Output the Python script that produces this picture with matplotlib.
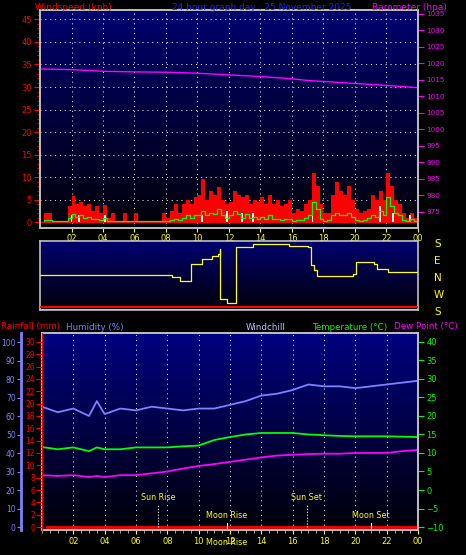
import numpy as np
import matplotlib
matplotlib.use("Agg")
import matplotlib.pyplot as plt
from matplotlib.colors import LinearSegmentedColormap

# ---- data ----
q_hours = [i*0.25 for i in range(96)]
gust = [0,2,2,0, 0,0,0,3.5, 5.8,4,4.5,3.5, 4,2.5,3.5,2, 3.8,1,2,0, 0,2,0,0, 2,0,0,0, 0,0,0,2,
        1,2.5,4,2, 4,5,4,5.5, 6,9.5,5,7, 6,7.8,5,4, 4.5,7,6,5.5, 6,4,5,4.5, 5.5,4,6,4, 5,3.5,4,5,
        2,3,2.5,4, 5,11,8,4, 2,2,6,9, 7,6,8,5, 3,2,2.5,3, 6,5,7,5, 11,8,5,4, 2,1,2,1]
avg_wind = [0.2,0.5,0.5,0.2, 0.2,0.2,0.3,1.0, 1.8,1.2,1.5,1.0, 1.2,0.6,0.8,0.4, 1.0,0.3,0.3,0.2, 0.2,0.2,0.2,0.2, 0.2,0.2,0.2,0.2, 0.2,0.2,0.2,0.3,
            0.3,0.5,0.8,0.5, 1.0,1.5,1.0,1.5, 1.5,2.5,1.5,2.0, 1.8,3.0,1.5,1.0, 1.5,2.5,1.8,1.0, 1.8,1.0,1.2,0.8, 1.2,0.8,1.5,0.6, 0.8,0.5,0.6,0.8,
            0.3,0.5,0.5,1.0, 1.5,4.5,3.0,0.8, 0.3,0.5,1.5,2.0, 1.5,1.5,2.0,1.2, 0.5,0.3,0.5,1.0, 1.5,1.2,2.5,1.5, 5.5,3.5,2.0,1.5, 0.5,0.3,0.8,0.3]
white_t = [2.0,2.5,4.1,10.3,11.9,12.8,13.5,17.3,21.6,22.4,23.5]
white_v = [1.5,1.5,1.5,1.5,2.5,2.0,2.0,3.5,3.5,2.0,1.5]
baro_t = [0,2,4,6,8,10,12,14,16,17,18,20,22,24]
baro = [1018.3,1018.1,1017.6,1017.4,1017.3,1017.0,1016.5,1016.0,1015.3,1014.8,1014.5,1013.9,1013.3,1012.6]
dir_t = [0,8.35,8.9,9.6,10.3,10.9,11.3,11.4,11.45,11.9,12.4,12.45,13.5,15.8,17.0,17.2,17.4,17.6,19.0,19.9,20.05,21.0,21.2,21.4,21.9,22.1,24]
dir_v = [35,33,29,46,51,54,56,61,11,7,7,63,66,64,63,45,40,34,34,36,48,48,46,41,41,38,36]
cl_t = [0,1,2,3,3.5,4,5,6,7,8,9,10,11,12,13,14,15,16,17,18,19,20,21,22,23,24]
humidity = [65,62,64,60,68,61,64,63,65,64,63,64,64,66,68,71,72,74,77,76,76,75,76,77,78,79]
temp = [11.6,11.0,11.5,10.5,11.5,11.0,11.0,11.5,11.5,11.5,11.8,12.0,13.5,14.3,15.0,15.4,15.4,15.4,15.0,14.8,14.6,14.5,14.5,14.5,14.4,14.3]
dew = [4.0,3.8,4.0,3.5,3.8,3.5,4.0,4.0,4.5,5.0,5.8,6.5,7.0,7.6,8.2,8.8,9.3,9.5,9.7,9.8,9.8,10.0,10.0,10.0,10.5,10.8]
xt = [2,4,6,8,10,12,14,16,18,20,22,24]
xtl = ['02','04','06','08','10','12','14','16','18','20','22','00']
events = ['Sun Rise', 'Sun Set', 'Moon Rise', 'Moon Set']
event_t = [7.4, 16.9, 11.8, 21.0]

fig = plt.figure(figsize=(4.66,5.55), dpi=100, facecolor='black')
plt.rcParams['font.family'] = 'DejaVu Sans'
FS = 6

def bg(ax, top, bot):
    g = np.linspace(0,1,256).reshape(-1,1)
    cm = LinearSegmentedColormap.from_list('g',[top,bot])
    ax.imshow(g, aspect='auto', cmap=cm, extent=[0,1,1,0], transform=ax.transAxes, zorder=0)
    for s in ax.spines.values():
        s.set_color('#c0c0c0'); s.set_linewidth(1.2)

W = lambda px: px/466
H = lambda px: px/555

# ---- top panel ----
ax1 = fig.add_axes([W(40), 1-H(228), W(378), H(218)])
bg(ax1, '#000008', '#000070')
ax1.bar(q_hours, gust, width=0.25, align='edge', color='red', zorder=2)
ax1.axhline(0, color='red', lw=1, zorder=2)
ax1.bar(white_t, white_v, width=0.12, color='#f0fff0', zorder=3)
ax1.step([h+0.25 for h in q_hours], avg_wind, where='pre', color='#00ff00', lw=0.9, zorder=4)
ax1.set_xlim(0,24); ax1.set_ylim(-1.3,47.1)
ax1.set_yticks(range(0,50,5))
ax1.set_yticks(range(0,47), minor=True)
ax1.tick_params(axis='y', colors='red', labelsize=FS, length=4, pad=2)
ax1.tick_params(axis='y', which='minor', colors='red', length=2)
ax1.set_xticks(xt); ax1.set_xticklabels(xtl)
ax1.tick_params(axis='x', colors='yellow', labelsize=FS, length=3, pad=1)
ax1.grid(True, color='white', linestyle=(0,(1,4)), lw=0.7)
ax1b = ax1.twinx()
ax1b.plot(baro_t, baro, color='#ff00ff', lw=1)
ax1b.set_ylim(970,1036.2)
ax1b.set_yticks(range(975,1036,5))
ax1b.tick_params(axis='y', colors='#ff00ff', labelsize=FS-0.8, length=4, pad=2)
for s in ax1b.spines.values(): s.set_color('#c0c0c0'); s.set_linewidth(1.2)
fig.text(W(35), 1-H(8), 'Windspeed (kph)', color='red', fontsize=6.5, va='center')
fig.text(W(172), 1-H(8), '24 hour graph day : 25 November 2025', color='#2020ff', fontsize=6.5, va='center')
fig.text(W(372), 1-H(8), 'Barometer (hpa)', color='#ff00ff', fontsize=6.5, va='center')

# ---- middle panel ----
ax2 = fig.add_axes([W(40), 1-H(310), W(378), H(69)])
bg(ax2, '#000008', '#000070')
ax2.step(dir_t, dir_v, where='post', color='yellow', lw=0.9, zorder=3)
ax2.plot([0,24],[3,3], color='red', lw=1.5, zorder=3)
ax2.plot([0,24],[1,1], color='#c0c0ff', lw=0.7, zorder=3)
ax2.set_xlim(0,24); ax2.set_ylim(0,69)
ax2.set_xticks([]); ax2.set_yticks([])
for i, lab in enumerate(['S','E','N','W','S']):
    fig.text(W(434), 1-H(244+17*i), lab, color='yellow', fontsize=7.5, va='center')

# ---- bottom panel ----
ax3 = fig.add_axes([W(42), 1-H(530), W(376), H(197)])
bg(ax3, '#000008', '#000080')
ax3.set_xlim(0,24)
ax3.set_ylim(-10.8,42.4)
ax3.plot(cl_t, [h*0.5-10 for h in humidity], color='#8080ff', lw=1.3, zorder=3)
ax3.plot(cl_t, temp, color='#00ff00', lw=1.3, zorder=3)
ax3.plot(cl_t, dew, color='#ff00ff', lw=1.3, zorder=3)
ax3.plot([0.3,24],[-10,-10], color='red', lw=2, zorder=3)
ax3.set_yticks([])
ax3.set_xticks(xt); ax3.set_xticklabels(xtl)
ax3.set_xticks(np.arange(0,24,0.5), minor=True)
ax3.tick_params(axis='x', colors='yellow', labelsize=FS, length=3, pad=2)
ax3.tick_params(axis='x', which='minor', colors='#c0c0c0', length=2)
ax3.grid(True, color='white', linestyle=(0,(1,4)), lw=0.7)
axt = ax3.twinx(); axt.set_ylim(-10.8,42.4)
axt.set_yticks(range(-10,41,5))
axt.tick_params(axis='y', colors='#00ff00', labelsize=FS, length=4, pad=2)
for s in axt.spines.values(): s.set_color('#c0c0c0'); s.set_linewidth(1.2)
axr = ax3.twinx(); axr.set_ylim(-0.48, 31.44)
axr.yaxis.set_ticks_position('left')
axr.set_yticks(range(0,31,2)); axr.set_yticks(np.arange(0,30.1,0.5), minor=True)
axr.tick_params(axis='y', colors='red', labelsize=FS-0.5, length=4, pad=1)
axr.tick_params(axis='y', which='minor', colors='red', length=1.5)
axr.spines['left'].set_color('red')
for k in ['right','top','bottom']: axr.spines[k].set_visible(False)
axh = ax3.twinx(); axh.set_ylim(-1.6,104.9)
axh.yaxis.set_ticks_position('left')
axh.spines['left'].set_position(('outward', 15)); axh.spines['left'].set_color('#8080ff')
axh.spines['left'].set_linewidth(2)
for k in ['right','top','bottom']: axh.spines[k].set_visible(False)
axh.set_yticks(range(0,101,10))
axh.tick_params(axis='y', colors='#8080ff', labelsize=FS-0.5, length=3, pad=1)
for t, x in zip(events, event_t):
    y = -2.1 if 'Sun' in t else -7.0
    ax3.plot([x,x],[-10.8, y-2.0], color='white', lw=0.8, ls=':' if 'Sun' in t else '-', zorder=4)
    ax3.text(x, y, t, color='yellow', fontsize=5.8, ha='center', va='center', zorder=5)
ax3.text(11.8, -14.2, 'Moon Rise', color='yellow', fontsize=5.8, ha='center', va='center', clip_on=False)
fig.text(W(1), 1-H(327), 'Rainfall (mm)', color='red', fontsize=6.3, va='center')
fig.text(W(66), 1-H(327), 'Humidity (%)', color='#8080ff', fontsize=6.3, va='center')
fig.text(W(246), 1-H(327), 'Windchill', color='#c0c0ff', fontsize=6.3, va='center')
fig.text(W(312), 1-H(327), 'Temperature (°C)', color='#00ff00', fontsize=6.3, va='center')
fig.text(W(394), 1-H(327), 'Dew Point (°C)', color='#ff00ff', fontsize=6.3, va='center')

fig.savefig('out.png', dpi=100, facecolor='black')
